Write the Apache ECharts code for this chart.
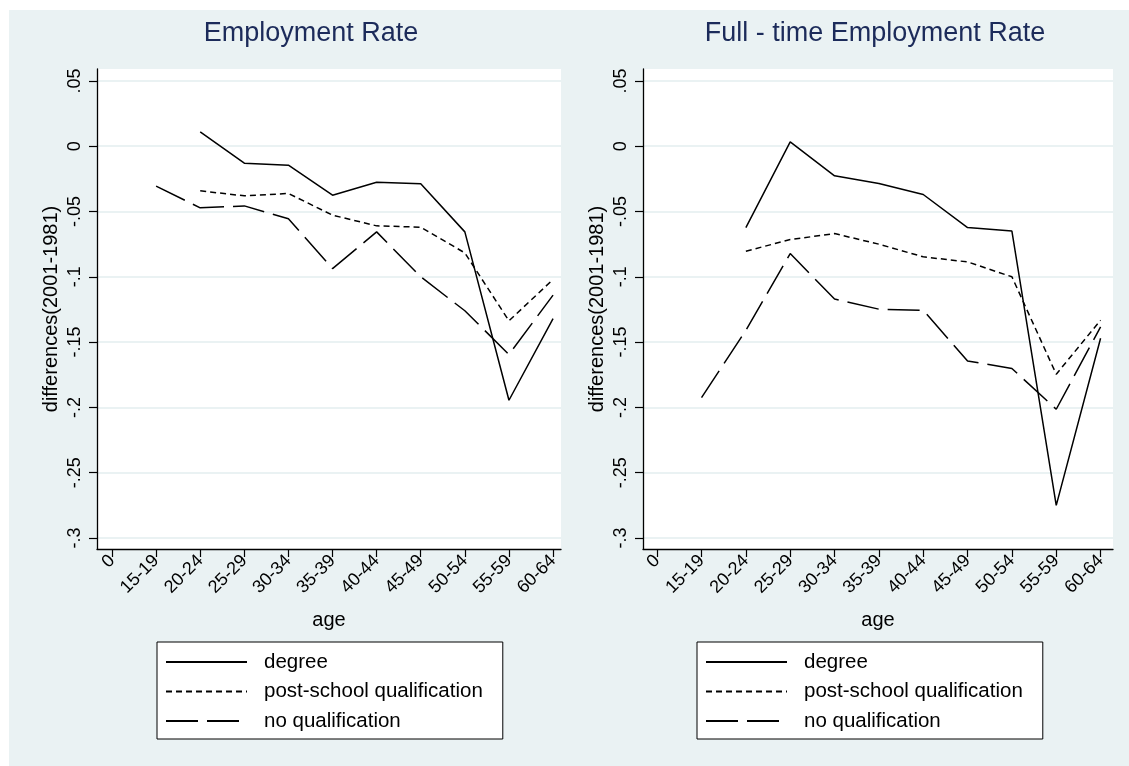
<!DOCTYPE html>
<html>
<head>
<meta charset="utf-8">
<title>Employment rate differences by age</title>
<script src="https://cdn.jsdelivr.net/npm/echarts@6/dist/echarts.min.js"></script>
<style>
  html, body { margin: 0; padding: 0; background: #fff; }
  #chart { width: 1129px; height: 766px; }
</style>
</head>
<body>
<div id="chart"></div>
<script>
// age groups on the x axis (Stata plots them as 0..10)
const ageLabels = ['0', '15-19', '20-24', '25-29', '30-34', '35-39', '40-44', '45-49', '50-54', '55-59', '60-64'];
const xTicks = [0, 1, 2, 3, 4, 5, 6, 7, 8, 9, 10];

const yTicks = [0.05, 0, -0.05, -0.1, -0.15, -0.2, -0.25, -0.3];
const yTickLabels = ['.05', '0', '-.05', '-.1', '-.15', '-.2', '-.25', '-.3'];

const seriesNames = ['degree', 'post-school qualification', 'no qualification'];

// Employment Rate
const empDegree = [null, null, 0.011, -0.013, -0.0145, -0.0375, -0.0276, -0.0288, -0.0656, -0.1945, -0.132];
const empPostSchool = [null, null, -0.0342, -0.038, -0.0362, -0.0528, -0.061, -0.062, -0.0817, -0.1337, -0.102];
const empNoQual = [null, -0.0306, -0.0472, -0.0457, -0.0556, -0.0937, -0.0656, -0.1, -0.126, -0.1595, -0.114];

// Full - time Employment Rate
const ftDegree = [null, null, -0.0623, 0.0033, -0.0227, -0.0286, -0.037, -0.0623, -0.065, -0.275, -0.147];
const ftPostSchool = [null, null, -0.0804, -0.0715, -0.0669, -0.075, -0.0847, -0.0886, -0.1, -0.1746, -0.1332];
const ftNoQual = [null, -0.1925, -0.141, -0.0822, -0.117, -0.1248, -0.1256, -0.1644, -0.1702, -0.2014, -0.1383];

const font = 'Liberation Sans, Arial, sans-serif';
const bg = '#eaf2f3';

function pairs(values) {
  const out = [];
  values.forEach((v, i) => { if (v !== null) out.push([xTicks[i], v]); });
  return out;
}

function yLabel(v) {
  const i = yTicks.findIndex(t => Math.abs(t - v) < 1e-9);
  return i >= 0 ? yTickLabels[i] : '';
}

function xLabel(v) {
  const i = xTicks.indexOf(Math.round(v));
  return i >= 0 ? ageLabels[i] : '';
}

const dashes = ['solid', [6, 4], [32, 9]];

function makeX(idx, min, max) {
  return {
    type: 'value', gridIndex: idx, min: min, max: max,
    name: 'age', nameLocation: 'middle', nameGap: 61, nameMoveOverlap: false,
    nameTextStyle: { color: '#000', fontSize: 20, fontFamily: font, verticalAlign: 'top' },
    axisLine: { show: true, onZero: false, lineStyle: { color: '#000', width: 1.3 } },
    axisTick: { show: true, length: 8, lineStyle: { color: '#000', width: 1.2 }, customValues: xTicks },
    axisLabel: { color: '#000', fontSize: 18, fontFamily: font, rotate: 45, margin: 9,
      customValues: xTicks, formatter: xLabel },
    splitLine: { show: false }
  };
}

function makeY(idx) {
  return {
    type: 'value', gridIndex: idx, min: -0.3084, max: 0.0591,
    name: 'differences(2001-1981)', nameLocation: 'middle', nameGap: 36, nameMoveOverlap: false,
    nameTextStyle: { color: '#000', fontSize: 20, fontFamily: font },
    axisLine: { show: true, onZero: false, lineStyle: { color: '#000', width: 1.3 } },
    axisTick: { show: true, length: 8, lineStyle: { color: '#000', width: 1.2 }, customValues: yTicks },
    axisLabel: { color: '#000', fontSize: 18, fontFamily: font, rotate: 90, margin: 13,
      customValues: yTicks, formatter: yLabel },
    splitLine: { show: true, lineStyle: { color: bg, width: 2 } }
  };
}

function makeSeries(name, values, idx, k) {
  return {
    name: name, type: 'line', xAxisIndex: idx, yAxisIndex: idx,
    data: pairs(values), symbol: 'none', silent: true,
    lineStyle: { color: '#000', width: 1.5, type: dashes[k] },
    itemStyle: { color: '#000' }
  };
}

function makeLegend(left) {
  return {
    orient: 'vertical', left: left, top: 642,
    data: seriesNames, selectedMode: false,
    itemWidth: 81, itemHeight: 14, itemGap: 8.5,
    itemStyle: { opacity: 0 },
    backgroundColor: '#fff', borderColor: '#000', borderWidth: 1, borderRadius: 0,
    padding: [9.5, 20, 7.5, 8],
    textStyle: { color: '#000', fontSize: 20.5, fontFamily: font, padding: [0, 0, 0, 12] }
  };
}

const chart = echarts.init(document.getElementById('chart'));

chart.setOption({
  animation: false,
  backgroundColor: '#fff',
  graphic: [{
    type: 'rect', z: -10, silent: true,
    shape: { x: 9, y: 10, width: 1120, height: 756 },
    style: { fill: bg }
  }],
  title: [
    { text: 'Employment Rate', left: 311, top: 20, textAlign: 'center', padding: 0,
      textStyle: { color: '#1c2b5a', fontSize: 27, fontWeight: 'normal', fontFamily: font } },
    { text: 'Full - time Employment Rate', left: 875, top: 20, textAlign: 'center', padding: 0,
      textStyle: { color: '#1c2b5a', fontSize: 27, fontWeight: 'normal', fontFamily: font } }
  ],
  grid: [
    { left: 97, top: 69, width: 464, height: 480, show: true, backgroundColor: '#fff', borderWidth: 0, containLabel: false },
    { left: 643, top: 69, width: 470, height: 480, show: true, backgroundColor: '#fff', borderWidth: 0, containLabel: false }
  ],
  xAxis: [makeX(0, -0.34, 10.18), makeX(1, -0.32, 10.28)],
  yAxis: [makeY(0), makeY(1)],
  legend: [makeLegend(157), makeLegend(697)],
  series: [
    makeSeries(seriesNames[0], empDegree, 0, 0),
    makeSeries(seriesNames[1], empPostSchool, 0, 1),
    makeSeries(seriesNames[2], empNoQual, 0, 2),
    makeSeries(seriesNames[0], ftDegree, 1, 0),
    makeSeries(seriesNames[1], ftPostSchool, 1, 1),
    makeSeries(seriesNames[2], ftNoQual, 1, 2)
  ]
});
</script>
</body>
</html>
